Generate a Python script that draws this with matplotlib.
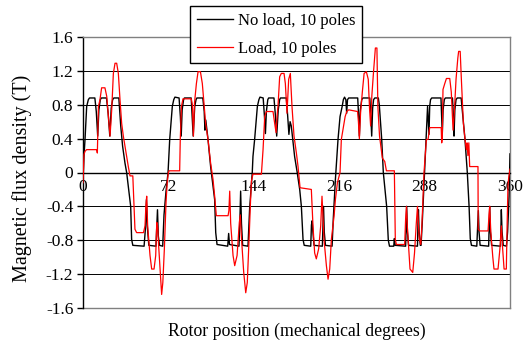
import matplotlib
matplotlib.use("Agg")
import matplotlib.pyplot as plt

# ---------------- data (degrees, Tesla) ----------------
noload_x = [0, 0.8, 1.7, 3.1, 4.5, 5.5, 10.0, 11.2, 12.4, 13.4, 14.6, 15.5, 19.8, 21.2, 22.6, 23.8, 25.0, 26.0, 30.2,
            31.8, 33.4, 35.4, 36.8, 38.8, 40.2, 41.0, 42.0, 51.5, 52.8, 53.5, 54.3, 55.5, 61.5, 62.3, 62.8, 63.5,
            64.5, 67.2, 68.3, 70.0, 71.7,
            73.1, 75.3, 76.5, 77.5, 81.0, 82.1, 82.8, 83.6, 84.8, 85.5, 91.2, 92.2, 92.9, 94.2, 95.3, 96.0, 101.0,
            102.2, 102.8, 103.5, 105.4, 107.6, 109.6, 111.0, 111.9, 113.0, 122.0, 122.8, 123.5, 131.5, 132.3,
            132.9, 133.6, 134.6, 139.1, 140.5, 142.7,
            143.3, 144.7, 147.0, 148.3, 149.2, 151.9, 153.0, 153.8, 154.6, 155.8, 156.5, 161.0, 162.3, 163.3,
            164.6, 165.8, 166.5, 171.4, 172.6, 173.6, 174.6, 175.6, 178.4, 180.6, 182.7, 184.1, 185.5, 186.5,
            192.0, 192.6, 193.2, 193.8, 194.8, 201.8, 202.4, 202.8, 203.4, 204.4, 210.0, 211.0, 212.8, 215.0,
            216.7,
            218.5, 219.5, 220.5, 221.6, 222.3, 223.0, 224.0, 231.6, 232.4, 233.0, 233.8, 235.0, 236.0, 241.8,
            242.7, 243.4, 244.2, 245.0, 246.0, 249.0, 249.8, 251.8, 253.2, 256.0, 257.4, 258.4, 262.0, 262.5,
            263.2, 272.0, 272.5, 272.9, 273.5, 274.5, 282.0, 282.4, 282.8, 283.4, 284.4, 285.0, 286.0, 287.3,
            288.3, 289.5, 290.5,
            291.2, 291.7, 292.3, 293.0, 294.0, 301.8, 302.4, 302.9, 303.6, 304.6, 305.5, 311.5, 312.3, 312.8,
            313.5, 314.5, 315.5, 318.8, 320.0, 322.0, 324.0, 325.5, 326.5, 327.5, 332.0, 332.8, 333.3, 333.9,
            334.8, 342.0, 342.5, 342.9, 343.5, 344.5, 352.0, 352.4, 352.7, 353.3, 354.3, 357.0, 358.0, 359.2,
            360.0]
noload_y = [-0.10, 0.19, 0.39, 0.78, 0.86, 0.88, 0.88, 0.72, 0.43, 0.74, 0.86, 0.88, 0.88, 0.70, 0.43, 0.76, 0.86,
            0.88, 0.88, 0.55, 0.31, 0.11, 0.0, -0.24, -0.40, -0.79, -0.86, -0.87, -0.63, -0.32, -0.65, -0.86,
            -0.87, -0.60, -0.44, -0.75, -0.86, -0.87, -0.50, -0.22, 0.0,
            0.39, 0.78, 0.86, 0.89, 0.88, 0.66, 0.43, 0.74, 0.86, 0.88, 0.88, 0.62, 0.43, 0.78, 0.86, 0.88, 0.88,
            0.72, 0.50, 0.62, 0.39, 0.07, -0.16, -0.32, -0.71, -0.85, -0.87, -0.72, -0.85, -0.87, -0.55, -0.22,
            -0.60, -0.86, -0.87, -0.42, 0.0,
            0.19, 0.39, 0.78, 0.86, 0.89, 0.88, 0.66, 0.46, 0.72, 0.86, 0.88, 0.88, 0.66, 0.43, 0.74, 0.86, 0.88,
            0.88, 0.66, 0.45, 0.60, 0.55, 0.19, 0.0, -0.20, -0.40, -0.79, -0.86, -0.87, -0.62, -0.57, -0.70,
            -0.86, -0.87, -0.60, -0.40, -0.70, -0.86, -0.87, -0.55, -0.08, 0.39, 0.66,
            0.78, 0.86, 0.89, 0.86, 0.70, 0.86, 0.88, 0.88, 0.66, 0.43, 0.74, 0.86, 0.88, 0.88, 0.66, 0.43, 0.76,
            0.86, 0.88, 0.88, 0.80, 0.40, 0.0, -0.40, -0.80, -0.87, -0.87, -0.78, -0.86, -0.87, -0.60, -0.40,
            -0.70, -0.86, -0.87, -0.60, -0.44, -0.70, -0.86, -0.86, -0.60, -0.20, 0.10, 0.45, 0.78,
            0.60, 0.45, 0.78, 0.86, 0.88, 0.88, 0.66, 0.45, 0.74, 0.86, 0.88, 0.88, 0.66, 0.43, 0.74, 0.86, 0.88,
            0.88, 0.70, 0.40, 0.0, -0.40, -0.78, -0.86, -0.87, -0.62, -0.45, -0.70, -0.86, -0.87, -0.60, -0.40,
            -0.70, -0.86, -0.87, -0.60, -0.44, -0.70, -0.86, -0.87, -0.70, -0.28, 0.22]

load_x = [0, 0.8, 1.7, 3.0, 11.5, 12.1, 13.0, 14.3, 15.7, 18.5, 20.0, 21.4, 22.8, 24.2, 25.6, 27.0, 28.4, 29.8,
          31.2, 32.6, 34.0, 36.3, 38.2, 39.6, 42.0, 43.0, 43.8, 45.2, 51.0, 52.3, 53.0, 53.7, 54.5, 56.5, 57.9,
          59.9, 61.3, 62.2, 63.0, 63.8, 65.5, 66.3, 67.3, 68.6, 70.0, 71.0, 72.0,
          72.6, 81.5, 82.0, 83.0, 84.3, 91.3, 92.2, 93.1, 94.0, 95.6, 97.0, 99.0, 100.6, 101.7, 103.4, 105.4,
          107.6, 109.6, 111.0, 112.4, 122.3, 123.0, 123.7, 124.5, 126.5, 127.9, 129.9, 131.8, 132.6, 133.5,
          135.5, 137.2, 138.5, 140.0, 141.2, 142.0,
          143.3, 150.4, 151.8, 153.2, 154.6, 160.2, 161.6, 162.8, 163.8, 164.4, 165.8, 167.2, 169.5, 170.6,
          172.0, 173.4, 174.8, 176.2, 177.9, 179.9, 181.3, 183.0, 192.5, 193.9, 195.3, 196.7, 198.7, 200.4,
          201.5, 203.2, 205.2, 206.6, 208.0, 209.4, 211.7, 212.8, 214.5,
          216.7, 217.8, 221.0, 222.4, 224.0, 231.5, 232.2, 233.0, 234.0, 235.5, 237.0, 238.9, 240.5, 241.6,
          242.5, 243.5, 245.0, 246.5, 247.8, 248.6, 250.0, 252.4, 254.4, 255.8, 262.5, 263.3, 264.2, 271.2,
          272.0, 272.7, 273.5, 275.7, 278.0, 279.5, 281.0, 282.0, 282.8, 283.5, 284.8, 285.8, 287.5, 289.5,
          290.9, 292.3, 302.0, 302.4, 302.9, 303.5, 305.0, 306.4, 309.2, 310.5, 312.0, 313.0, 314.5, 316.0,
          316.7, 318.0, 319.0, 320.7, 322.0, 323.2, 323.8, 324.5, 325.3, 326.0, 333.0, 333.2, 334.6, 341.5,
          342.3, 342.9, 343.8, 345.5, 346.5, 349.9, 351.5, 352.7, 353.8, 355.0, 356.9, 357.6, 358.3, 359.0,
          360.0]
load_y = [-0.12, 0.21, 0.25, 0.27, 0.27, 0.23, 0.78, 0.86, 1.00, 1.00, 0.90, 0.66, 0.43, 0.74, 1.17, 1.29, 1.29,
          1.17, 0.86, 0.58, 0.43, 0.23, 0.07, -0.04, -0.04, -0.40, -0.67, -0.71, -0.71, -0.63, -0.40, -0.28,
          -0.63, -0.98, -1.14, -1.14, -0.98, -0.59, -0.65, -0.87, -1.26, -1.44, -1.30, -0.90, -0.35, -0.12, 0.0,
          0.02, 0.02, 0.39, 0.78, 0.87, 0.87, 0.80, 0.43, 0.82, 1.05, 1.19, 1.19, 1.05, 0.86, 0.58, 0.39, 0.11,
          -0.08, -0.28, -0.51, -0.51, -0.45, -0.22, -0.60, -0.98, -1.10, -0.98, -0.59, -0.50, -0.75, -1.18,
          -1.42, -1.30, -0.79, -0.35, -0.10,
          -0.02, -0.02, 0.27, 0.66, 0.72, 0.72, 0.58, 0.47, 0.70, 0.78, 1.13, 1.17, 1.17, 1.05, 0.70, 1.10,
          1.17, 0.78, 0.43, 0.23, 0.07, -0.18, -0.20, -0.63, -0.95, -1.02, -0.90, -0.63, -0.28, -0.79, -1.10,
          -1.26, -1.14, -0.79, -0.51, -0.32, -0.12,
          0.0, 0.39, 0.66, 0.72, 0.74, 0.72, 0.60, 0.40, 0.70, 0.95, 1.17, 1.19, 1.10, 0.75, 0.55, 0.90, 1.20,
          1.47, 1.47, 0.78, 0.43, 0.17, 0.13, 0.02, 0.02, -0.79, -0.85, -0.85, -0.55, -0.40, -0.65, -1.14,
          -1.18, -0.95, -0.60, -0.40, -0.62, -0.78, -0.85, -0.60, 0.0, 0.39,
          0.39, 0.53, 0.53, 0.35, 0.40, 0.98, 1.05, 1.11, 1.11, 0.95, 0.50, 0.70, 1.10, 1.35, 1.43, 1.43,
          1.10, 0.58, 0.40, 0.27, 0.35, 0.20, 0.35, 0.07, 0.07, -0.67, -0.69, -0.69, -0.50, -0.40, -0.70,
          -1.00, -1.14, -1.14, -0.90, -0.63, -0.90, -1.14, -1.14, -0.60, -0.15, -0.05, 0.04]

x_ticks = [0, 72, 144, 216, 288, 360]
y_ticks = [-1.6, -1.2, -0.8, -0.4, 0, 0.4, 0.8, 1.2, 1.6]
y_tick_labels = ["-1.6", "-1.2", "-0.8", "-0.4", "0", "0.4", "0.8", "1.2", "1.6"]
series_labels = ["No load, 10 poles", "Load, 10 poles"]
x_label = "Rotor position (mechanical degrees)"
y_label = "Magnetic flux density (T)"

# ---------------- figure ----------------
plt.rcParams['font.family'] = ['Liberation Serif', 'DejaVu Serif']
fig = plt.figure(figsize=(5.32, 3.41), dpi=100)
ax = fig.add_axes([83/532, 1-308/341, 427/532, 271/341])

ax.set_xlim(0, 360)
ax.set_ylim(-1.6, 1.6)

# horizontal gridlines (inner ones only)
for v in y_ticks[1:-1]:
    if v != 0:
        ax.axhline(v, color='black', lw=0.7, zorder=1)

l1, = ax.plot(noload_x, noload_y, color='black', lw=1.0, zorder=3)
l2, = ax.plot(load_x, load_y, color='#ff0000', lw=0.9, zorder=4)

# frame
grey = '#808080'
for s in ['top', 'right']:
    ax.spines[s].set_color(grey)
    ax.spines[s].set_linewidth(1.0)
ax.spines['left'].set_color('black')
ax.spines['left'].set_linewidth(1.0)
ax.spines['bottom'].set_position(('data', 0))
ax.spines['bottom'].set_color('black')
ax.spines['bottom'].set_linewidth(1.0)
ax.axhline(-1.6, color=grey, lw=1.0, clip_on=False, zorder=2.5)

ax.set_xticks(x_ticks)
ax.set_xticklabels([str(t) for t in x_ticks])
ax.set_yticks(y_ticks)
ax.set_yticklabels(y_tick_labels)
ax.tick_params(axis='x', length=0, pad=4.5, labelsize=12.5)
ax.tick_params(axis='y', direction='out', length=4, width=1.0, pad=3, labelsize=12.5)

ax.set_xlabel(x_label, fontsize=12.8)
ax.xaxis.set_label_coords(0.5, -0.055)
ax.set_ylabel(y_label, fontsize=14.5)
ax.yaxis.set_label_coords(-0.12, 0.48)

leg = fig.legend([l1, l2], series_labels, loc='upper left',
                 bbox_to_anchor=(190/532, 1-6/341), borderaxespad=0,
                 fontsize=12, frameon=True, fancybox=False, framealpha=1,
                 edgecolor='black', handlelength=2.2, handletextpad=0.25,
                 borderpad=0.4, labelspacing=0.72)
leg.get_frame().set_linewidth(1.0)

fig.savefig("out.png", dpi=100)
